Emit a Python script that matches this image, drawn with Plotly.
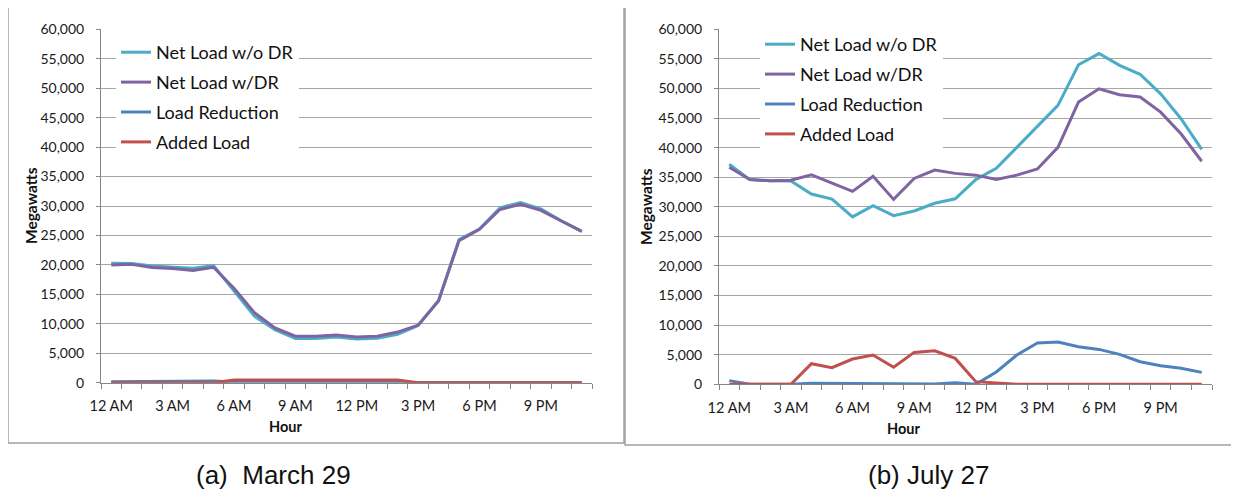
import plotly.graph_objects as go

# ---------------- data ----------------
hours = list(range(24))
hour_tick_pos = [0, 3, 6, 9, 12, 15, 18, 21]
hour_tick_text = ["12 AM", "3 AM", "6 AM", "9 AM", "12 PM", "3 PM", "6 PM", "9 PM"]
y_ticks = list(range(0, 60001, 5000))
series_names = ["Net Load w/o DR", "Net Load w/DR", "Load Reduction", "Added Load"]
series_colors = ["#4BACC6", "#8064A2", "#4F81BD", "#C0504D"]

# (a) March 29
mar_wo_dr = [20300, 20250, 19800, 19650, 19450, 19900, 15700, 11300, 9000, 7500, 7500, 7750,
             7400, 7550, 8200, 9700, 13900, 24300, 26100, 29700, 30600, 29500, 27500, 25700]
mar_w_dr = [20000, 20100, 19550, 19400, 19050, 19600, 16050, 11900, 9300, 7900, 7900, 8100,
            7750, 7900, 8600, 9750, 13900, 24100, 26050, 29400, 30300, 29250, 27450, 25700]
mar_reduction = [150, 200, 200, 250, 300, 300, 100, 50, 50, 50, 50, 50,
                 50, 50, 50, 150, 150, 150, 150, 150, 150, 150, 100, 50]
mar_added = [0, 0, 0, 0, 0, 0, 450, 450, 450, 450, 450, 450,
             450, 450, 450, 0, 0, 0, 0, 0, 0, 0, 0, 0]

# (b) July 27
jul_wo_dr = [37200, 34600, 34400, 34350, 32150, 31300, 28300, 30200, 28500, 29300, 30600, 31350,
             34600, 36500, 40050, 43550, 47150, 54000, 55900, 53900, 52400, 49100, 44850, 39700]
jul_w_dr = [36700, 34600, 34400, 34500, 35400, 33950, 32600, 35150, 31250, 34800, 36200, 35650,
            35350, 34600, 35350, 36400, 40050, 47700, 49950, 48950, 48550, 46000, 42300, 37700]
jul_reduction = [620, 0, 0, 0, 170, 150, 50, 0, 0, 0, 50, 280,
                 0, 2080, 4940, 6970, 7130, 6350, 5900, 5060, 3820, 3150, 2700, 2020]
jul_added = [0, 0, 0, 0, 3480, 2810, 4270, 4940, 2870, 5390, 5670, 4380,
             450, 170, 0, 0, 0, 0, 0, 0, 0, 0, 0, 0]

# the page body has an 8px margin, so the figure is drawn 8px in from the window corner
OFF = 8
W, H = 1239 - OFF, 492 - OFF
FONT = "Lato"
AX_COLOR = "#868686"
GRID_COLOR = "#A6A6A6"


def px(x):
    return (x - OFF) / W


def py(y):
    return 1 - (y - OFF) / H


fig = go.Figure()

panels = [
    ("x", "y", "legend", [mar_wo_dr, mar_w_dr, mar_reduction, mar_added]),
    ("x2", "y2", "legend2", [jul_wo_dr, jul_w_dr, jul_reduction, jul_added]),
]
for xa, ya, lg, series in panels:
    for i, (name, color, vals) in enumerate(zip(series_names, series_colors, series)):
        fig.add_trace(go.Scatter(
            x=hours, y=vals, name=name, mode="lines",
            line=dict(color=color, width=3),
            xaxis=xa, yaxis=ya, legend=lg, legendgroup=f"{lg}_{i}",
        ))

xaxis_common = dict(
    range=[-0.5, 23.5], tickmode="array", tickvals=hour_tick_pos, ticktext=hour_tick_text,
    ticks="", showgrid=False, zeroline=False, showline=True, linecolor=AX_COLOR, linewidth=1,
    tickfont=dict(family=FONT, size=14.5, color="#1a1a1a"), ticklabelstandoff=10, automargin=False,
    minor=dict(tickmode="array", tickvals=[h - 0.5 for h in range(25)], ticks="outside",
               ticklen=5, tickcolor=AX_COLOR, tickwidth=1, showgrid=False),
)
yaxis_common = dict(
    range=[0, 60000], tickmode="array", tickvals=y_ticks, tickformat=",",
    ticks="outside", ticklen=4, tickcolor=AX_COLOR, showgrid=True, gridcolor=GRID_COLOR,
    gridwidth=1, zeroline=False, showline=True, linecolor=AX_COLOR, linewidth=1, automargin=False,
    tickfont=dict(family=FONT, size=14, color="#1a1a1a"), ticklabelstandoff=9,
)

legend_common = dict(
    bgcolor="white", borderwidth=0, font=dict(family=FONT, size=18, color="#111111"),
    xanchor="left", yanchor="top", tracegroupgap=3.5, itemwidth=30, traceorder="grouped",
)

fig.update_layout(
    width=W, height=H, margin=dict(l=0, r=0, t=0, b=0, autoexpand=False),
    paper_bgcolor="white", plot_bgcolor="white",
    xaxis=dict(domain=[px(101), px(592)], anchor="y", **xaxis_common),
    yaxis=dict(domain=[py(382.7), py(29.3)], anchor="x", **yaxis_common),
    xaxis2=dict(domain=[px(719), px(1212)], anchor="y2", **xaxis_common),
    yaxis2=dict(domain=[py(384.3), py(29.3)], anchor="x2", **yaxis_common),
    legend=dict(x=px(116), y=py(34), **legend_common),
    legend2=dict(x=px(760), y=py(26), **legend_common),
    showlegend=True,
)

# panel borders
fig.add_shape(type="rect", xref="paper", yref="paper", x0=px(8), x1=px(624), y0=py(443), y1=py(6),
              line=dict(color="#A0A0A0", width=1.5), layer="below")
fig.add_shape(type="rect", xref="paper", yref="paper", x0=px(625), x1=px(1250), y0=py(445), y1=py(6),
              line=dict(color="#A0A0A0", width=1.5), layer="below")

annos = [
    dict(text="<b>Megawatts</b>", x=px(31), y=py(206), textangle=-90, size=15.5),
    dict(text="<b>Megawatts</b>", x=px(646), y=py(207), textangle=-90, size=15.5),
    dict(text="<b>Hour</b>", x=px(285), y=py(426), textangle=0, size=14.5),
    dict(text="<b>Hour</b>", x=px(903), y=py(428), textangle=0, size=14.5),
]
for a in annos:
    fig.add_annotation(text=a["text"], x=a["x"], y=a["y"], xref="paper", yref="paper",
                       showarrow=False, textangle=a["textangle"], xanchor="center", yanchor="middle",
                       font=dict(family=FONT, size=a["size"], color="#111111"))

for text, x in [("(a)\u00a0 March 29", 273), ("(b) July 27", 928)]:
    fig.add_annotation(text=text, x=px(x), y=py(475), xref="paper", yref="paper", showarrow=False,
                       xanchor="center", yanchor="middle",
                       font=dict(family="Liberation Sans", size=26, color="#111111"))

fig.write_html("out.html")
